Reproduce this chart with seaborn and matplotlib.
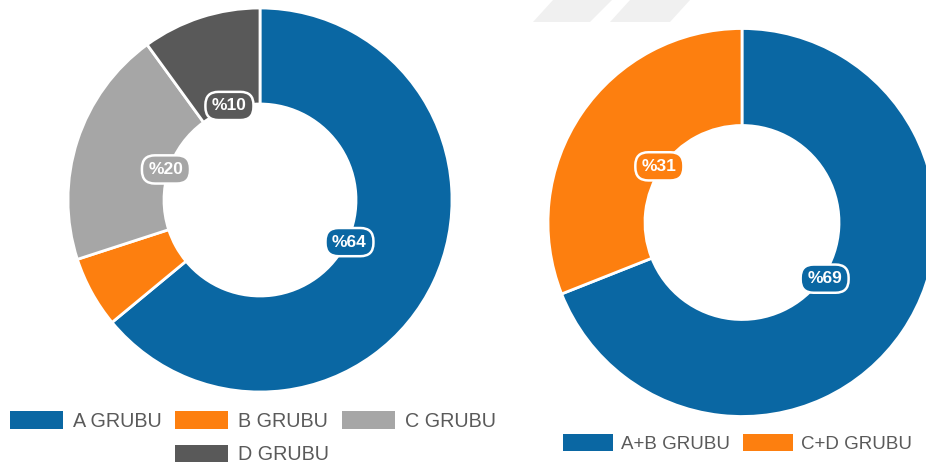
import matplotlib
matplotlib.use("Agg")
import matplotlib.pyplot as plt
import seaborn as sns
import numpy as np
from matplotlib.patches import Patch, Polygon

# ---- data ----
left_categories = ["A GRUBU", "B GRUBU", "C GRUBU", "D GRUBU"]
left_values = [64, 6, 20, 10]
left_labels = ["%64", None, "%20", "%10"]

right_categories = ["A+B GRUBU", "C+D GRUBU"]
right_values = [69, 31]
right_labels = ["%69", "%31"]

BLUE = "#0a67a3"
ORANGE = "#fd7f0f"
LGRAY = "#a6a6a6"
DGRAY = "#595959"
left_colors = [BLUE, ORANGE, LGRAY, DGRAY]
right_colors = [BLUE, ORANGE]

sns.set_theme(style="white")
plt.rcParams["font.family"] = ["Liberation Sans", "DejaVu Sans"]

W, H = 926, 468
fig = plt.figure(figsize=(W / 100, H / 100), dpi=100)
fig.patch.set_facecolor("white")

# faint watermark stripes at top
def px(x, y):
    return (x / W, 1 - y / H)

for poly in [[(533, 22), (553, 0), (612, 0), (590, 22)],
             [(610, 22), (630, 0), (690, 0), (670, 22)]]:
    fig.patches.append(Polygon([px(*p) for p in poly], closed=True,
                               transform=fig.transFigure, fc="#f0f0f0",
                               ec="none", zorder=0))


def donut(cx, cy, r, values, colors, labels):
    ax = fig.add_axes([(cx - r) / W, 1 - (cy + r) / H, 2 * r / W, 2 * r / H])
    wedges, _ = ax.pie(values, colors=colors, startangle=90, counterclock=False,
                       radius=1, wedgeprops=dict(width=0.5, edgecolor="white",
                                                 linewidth=2))
    ax.set_xlim(-1, 1)
    ax.set_ylim(-1, 1)
    ax.set_aspect("equal")
    ax.axis("off")
    for w, lab, col in zip(wedges, labels, colors):
        if lab is None:
            continue
        mid = np.deg2rad((w.theta1 + w.theta2) / 2)
        rr = 0.515
        ax.text(rr * np.cos(mid), rr * np.sin(mid), lab, ha="center", va="center",
                color="white", fontsize=12.5, fontweight="bold",
                bbox=dict(boxstyle="round,pad=0.38,rounding_size=0.75",
                          fc=col, ec="white", lw=1.8))
    return ax


donut(260, 200, 192, left_values, left_colors, left_labels)
donut(742, 222.5, 194, right_values, right_colors, right_labels)

# legends
blank = Patch(facecolor="none", edgecolor="none")
lh = [Patch(facecolor=c, edgecolor="none") for c in left_colors]
handles = [lh[0], blank, lh[1], lh[3], lh[2], blank]
labs = [left_categories[0], "", left_categories[1], left_categories[3],
        left_categories[2], ""]
leg1 = fig.legend(handles, labs, ncol=3, loc="upper left",
                  bbox_to_anchor=(10 / W, 1 - 411 / H), frameon=False,
                  fontsize=14.2, handlelength=2.68, handleheight=1.0,
                  handletextpad=0.5, columnspacing=0.68, labelspacing=0.72,
                  borderpad=0, borderaxespad=0)
for t in leg1.get_texts():
    t.set_color("#5a5a5a")

rh = [Patch(facecolor=c, edgecolor="none") for c in right_colors]
leg2 = fig.legend(rh, right_categories, ncol=2, loc="upper left",
                  bbox_to_anchor=(563 / W, 1 - 434 / H), frameon=False,
                  fontsize=13.5, handlelength=2.65, handleheight=1.0,
                  handletextpad=0.45, columnspacing=0.68,
                  borderpad=0, borderaxespad=0)
for t in leg2.get_texts():
    t.set_color("#5a5a5a")

fig.savefig("out.png", dpi=100, facecolor="white")
